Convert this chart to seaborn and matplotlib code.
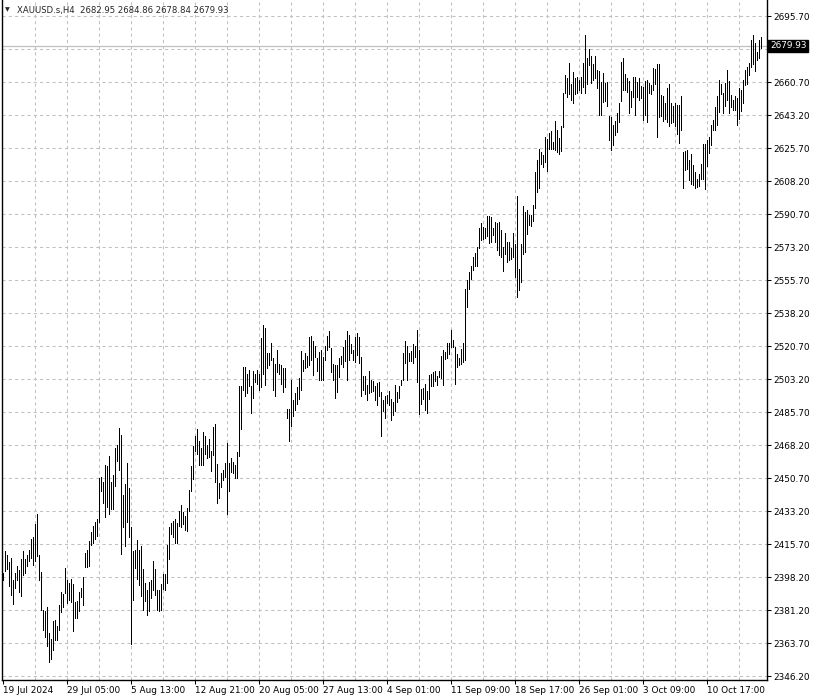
import numpy as np
import pandas as pd
import matplotlib
matplotlib.use("Agg")
import matplotlib.pyplot as plt
import matplotlib.transforms as mtransforms
import seaborn as sns

# ---- data (H4 bars, high / low) ----
highs = [
    2400.8, 2412.6, 2410.1, 2406.4, 2408.7, 2396.8, 2400.5, 2404.3, 2402.6, 2408.4,
    2412.6, 2408.4, 2410.1, 2412.7, 2418.9, 2419.6, 2426.7, 2432.0, 2410.1, 2401.5,
    2381.1, 2380.4, 2383.0, 2369.0, 2365.8, 2375.1, 2376.0, 2372.8, 2383.7, 2390.7,
    2389.5, 2403.5, 2396.8, 2395.6, 2397.7, 2394.7, 2385.6, 2386.0, 2390.7, 2392.8,
    2398.6, 2411.3, 2413.1, 2417.5, 2422.7, 2425.7, 2428.0, 2429.2, 2451.1, 2451.6,
    2449.0, 2458.1, 2457.2, 2462.6, 2449.0, 2452.5, 2466.8, 2468.6, 2477.5, 2474.0,
    2442.3, 2447.7, 2458.9, 2445.8, 2425.2, 2412.2, 2413.0, 2418.3, 2413.0, 2415.2,
    2403.1, 2395.7, 2391.6, 2396.1, 2397.3, 2406.9, 2402.8, 2391.6, 2391.6, 2394.8,
    2400.3, 2400.1, 2415.5, 2424.9, 2427.5, 2428.4, 2429.3, 2427.2, 2433.4, 2436.7,
    2433.2, 2431.1, 2435.0, 2444.9, 2457.2, 2468.2, 2473.2, 2477.0, 2470.9, 2466.8,
    2475.6, 2473.2, 2468.7, 2471.7, 2465.5, 2478.3, 2479.7, 2458.5, 2448.2, 2453.5,
    2455.5, 2458.8, 2469.6, 2458.8, 2461.5, 2459.7, 2458.1, 2464.7, 2500.0, 2500.0,
    2509.8, 2510.1, 2506.2, 2508.0, 2500.0, 2507.5, 2505.9, 2508.0, 2506.4, 2525.0,
    2532.0, 2530.3, 2517.4, 2517.4, 2522.3, 2514.4, 2511.7, 2519.1, 2511.7, 2510.8,
    2509.1, 2509.1, 2487.8, 2487.8, 2502.9, 2492.3, 2496.2, 2499.3, 2503.8, 2518.3,
    2513.5, 2517.4, 2515.6, 2525.9, 2526.2, 2523.6, 2520.9, 2514.4, 2517.9, 2519.1,
    2515.3, 2520.9, 2526.2, 2529.0, 2519.7, 2511.7, 2510.8, 2510.8, 2514.7, 2515.6,
    2520.6, 2524.4, 2529.0, 2526.7, 2521.8, 2518.8, 2525.5, 2527.6, 2525.5, 2515.3,
    2505.0, 2505.0, 2500.2, 2507.6, 2503.2, 2502.3, 2499.7, 2501.5, 2502.0, 2496.7,
    2492.6, 2494.4, 2494.9, 2497.0, 2493.1, 2491.2, 2500.2, 2496.5, 2499.6, 2502.8,
    2517.3, 2523.5, 2521.0, 2517.3, 2518.4, 2521.9, 2521.0, 2529.2, 2519.1, 2498.4,
    2498.8, 2500.7, 2497.2, 2505.5, 2506.4, 2507.2, 2507.6, 2504.9, 2507.6, 2515.5,
    2518.7, 2517.8, 2522.3, 2522.3, 2529.3, 2524.0, 2520.5, 2516.6, 2514.8, 2519.6,
    2522.3, 2551.4, 2555.9, 2560.3, 2563.3, 2567.9, 2570.0, 2573.5, 2583.3, 2585.9,
    2584.2, 2583.3, 2589.8, 2589.8, 2589.5, 2583.3, 2586.8, 2586.3, 2586.8, 2582.4,
    2573.5, 2580.6, 2576.2, 2576.2, 2572.7, 2580.6, 2575.1, 2600.4, 2561.5, 2574.8,
    2595.0, 2591.9, 2592.8, 2590.2, 2590.2, 2595.5, 2613.0, 2619.4, 2625.5, 2623.6,
    2622.0, 2631.4, 2630.8, 2634.0, 2634.7, 2629.1, 2640.2, 2635.6, 2631.2, 2637.4,
    2655.2, 2664.4, 2662.7, 2670.6, 2659.7, 2666.2, 2662.7, 2663.6, 2661.8, 2663.6,
    2671.0, 2685.7, 2673.3, 2678.1, 2674.5, 2670.1, 2674.5, 2667.1, 2666.6, 2660.9,
    2665.3, 2660.0, 2660.7, 2642.7, 2642.3, 2637.9, 2640.2, 2644.5, 2649.4, 2671.5,
    2673.3, 2665.0, 2662.7, 2661.4, 2656.1, 2663.6, 2663.2, 2660.9, 2662.7, 2658.6,
    2657.9, 2661.3, 2662.1, 2660.0, 2659.1, 2668.3, 2667.6, 2670.3, 2670.3, 2653.8,
    2653.3, 2649.4, 2657.4, 2659.7, 2649.8, 2648.0, 2649.8, 2648.5, 2648.5, 2653.3,
    2623.8, 2624.3, 2624.7, 2619.3, 2622.5, 2616.7, 2613.2, 2609.6, 2612.3, 2617.1,
    2628.2, 2628.2, 2630.0, 2631.7, 2637.9, 2640.6, 2647.3, 2653.3, 2661.8, 2659.7,
    2655.1, 2660.0, 2667.1, 2661.3, 2653.8, 2651.5, 2653.3, 2652.1, 2657.4, 2656.8,
    2662.1, 2667.1, 2668.5, 2671.0, 2683.0, 2685.7, 2681.6, 2676.8, 2683.0, 2684.86,
]
lows = [
    2397.0, 2401.7, 2402.9, 2393.8, 2389.1, 2384.2, 2392.6, 2396.8, 2390.7, 2388.6,
    2399.6, 2400.8, 2404.3, 2407.0, 2408.7, 2404.9, 2407.3, 2409.6, 2397.0, 2381.1,
    2370.7, 2366.7, 2362.3, 2353.6, 2355.0, 2360.2, 2365.5, 2365.5, 2370.7, 2380.2,
    2382.6, 2390.2, 2385.1, 2386.5, 2385.4, 2370.2, 2377.0, 2377.0, 2380.7, 2388.1,
    2383.9, 2403.8, 2403.8, 2404.3, 2415.4, 2416.6, 2418.7, 2420.4, 2428.0, 2444.2,
    2437.6, 2430.2, 2435.8, 2432.0, 2434.6, 2434.6, 2446.7, 2460.0, 2455.1, 2410.8,
    2425.3, 2414.8, 2428.0, 2419.6, 2363.4, 2386.3, 2403.3, 2397.5, 2394.5, 2388.6,
    2381.0, 2386.0, 2378.6, 2380.7, 2387.4, 2391.6, 2389.2, 2381.0, 2380.7, 2381.0,
    2392.2, 2391.6, 2395.7, 2408.4, 2421.3, 2419.6, 2416.6, 2416.6, 2425.8, 2424.9,
    2426.7, 2423.5, 2423.1, 2433.4, 2444.0, 2450.5, 2465.5, 2463.8, 2458.0, 2458.1,
    2458.1, 2463.8, 2461.7, 2462.0, 2454.9, 2463.4, 2449.1, 2437.6, 2440.3, 2446.1,
    2450.0, 2451.8, 2432.0, 2444.0, 2454.1, 2453.7, 2450.9, 2450.9, 2462.5, 2477.0,
    2497.9, 2494.4, 2496.0, 2500.0, 2485.5, 2493.5, 2501.8, 2500.9, 2497.6, 2499.3,
    2506.4, 2500.2, 2509.1, 2510.8, 2513.5, 2497.9, 2494.4, 2507.3, 2506.4, 2501.1,
    2496.7, 2499.3, 2483.1, 2470.7, 2478.5, 2483.8, 2487.0, 2490.5, 2493.1, 2497.9,
    2507.6, 2509.1, 2509.9, 2510.8, 2513.5, 2505.5, 2515.3, 2507.8, 2503.2, 2502.9,
    2502.9, 2513.8, 2519.1, 2520.6, 2507.3, 2503.2, 2493.5, 2496.7, 2504.6, 2511.4,
    2509.6, 2513.1, 2503.2, 2513.8, 2517.4, 2513.8, 2512.6, 2516.1, 2512.1, 2494.4,
    2497.6, 2495.8, 2492.3, 2496.2, 2496.7, 2497.0, 2492.6, 2489.6, 2494.4, 2473.2,
    2486.6, 2483.1, 2490.8, 2489.6, 2482.0, 2484.3, 2486.6, 2491.3, 2493.6, 2500.2,
    2502.8, 2512.0, 2503.2, 2512.9, 2513.1, 2512.0, 2515.2, 2501.9, 2485.1, 2490.1,
    2493.1, 2486.9, 2485.5, 2492.7, 2499.6, 2499.6, 2502.5, 2500.2, 2504.6, 2504.2,
    2500.2, 2514.1, 2514.8, 2516.6, 2520.5, 2520.5, 2500.7, 2509.9, 2510.8, 2511.3,
    2512.5, 2513.4, 2541.7, 2551.4, 2556.2, 2561.2, 2563.3, 2563.5, 2572.7, 2577.1,
    2577.4, 2578.0, 2579.2, 2575.3, 2576.2, 2579.7, 2576.2, 2571.8, 2569.1, 2568.2,
    2560.8, 2569.7, 2565.6, 2566.5, 2566.8, 2568.2, 2557.5, 2546.9, 2550.8, 2554.8,
    2569.8, 2570.7, 2580.5, 2585.2, 2584.5, 2587.2, 2594.2, 2602.6, 2604.9, 2617.6,
    2615.8, 2618.5, 2613.7, 2625.2, 2625.2, 2625.2, 2624.7, 2623.8, 2622.9, 2624.3,
    2637.0, 2655.1, 2652.9, 2654.4, 2651.5, 2649.8, 2654.4, 2655.1, 2656.5, 2654.7,
    2657.9, 2654.7, 2659.7, 2669.7, 2660.0, 2661.8, 2662.7, 2657.4, 2643.2, 2643.2,
    2650.3, 2650.8, 2648.0, 2630.0, 2624.7, 2627.3, 2632.6, 2634.4, 2639.7, 2650.6,
    2656.5, 2656.5, 2655.6, 2644.5, 2647.3, 2652.9, 2643.2, 2652.9, 2651.2, 2652.1,
    2640.9, 2643.2, 2639.7, 2654.7, 2654.2, 2656.8, 2659.7, 2631.7, 2642.0, 2642.7,
    2640.2, 2641.4, 2639.7, 2637.4, 2639.2, 2639.7, 2637.4, 2633.5, 2628.5, 2635.3,
    2604.9, 2614.0, 2614.9, 2609.1, 2606.6, 2606.1, 2604.9, 2605.2, 2605.6, 2609.6,
    2609.6, 2604.3, 2616.2, 2623.2, 2627.3, 2635.3, 2635.3, 2637.9, 2645.0, 2654.4,
    2644.1, 2648.0, 2651.5, 2644.1, 2647.3, 2646.2, 2645.9, 2637.9, 2641.4, 2645.5,
    2649.8, 2659.1, 2659.7, 2664.4, 2668.5, 2670.3, 2666.7, 2672.4, 2673.3, 2678.84,
]

x_tick_labels = ["19 Jul 2024", "29 Jul 05:00", "5 Aug 13:00", "12 Aug 21:00",
                 "20 Aug 05:00", "27 Aug 13:00", "4 Sep 01:00", "11 Sep 09:00",
                 "18 Sep 17:00", "26 Sep 01:00", "3 Oct 09:00", "10 Oct 17:00"]
y_tick_labels = ["2346.20", "2363.70", "2381.20", "2398.20", "2415.70", "2433.20",
                 "2450.70", "2468.20", "2485.70", "2503.20", "2520.70", "2538.20",
                 "2555.70", "2573.20", "2590.70", "2608.20", "2625.70", "2643.20",
                 "2660.70", "2678.20", "2695.70"]
symbol_line = "XAUUSD.s,H4  2682.95 2684.86 2678.84 2679.93"
last_close = 2679.93

sns.set_theme(style="white")
plt.rcParams['font.family'] = ['DejaVu Sans']
FS = 6.4

df = pd.DataFrame({"bar": np.arange(len(highs)), "high": highs, "low": lows})

fig = plt.figure(figsize=(8.13, 7.0), dpi=100)
fig.patch.set_facecolor("white")
ax = fig.add_axes([2 / 813, 20 / 700, 765 / 813, 680 / 700])
ax.set_facecolor("white")

ax.set_xlim(-0.5, 382)
ax.set_ylim(2344.1, 2704.2)

# grid
grid_kw = dict(color="#c0c0c0", linewidth=0.75, linestyle=(0, (3, 3)), zorder=0)
for gx in range(16, 380, 16):
    ax.axvline(gx, **grid_kw)
ytick_pos = np.linspace(2346.2, 2695.7, len(y_tick_labels))
for gy in ytick_pos:
    ax.axhline(gy, **grid_kw)

# bid line
ax.axhline(last_close, color="#c0c0c0", linewidth=0.9, zorder=1)

# bars
ax.vlines(df["bar"], df["low"], df["high"], color="black", linewidth=0.55,
          antialiased=False, zorder=2)

# axes styling
for side in ["left", "right", "bottom"]:
    ax.spines[side].set_visible(True)
    ax.spines[side].set_color("black")
    ax.spines[side].set_linewidth(1.0)
ax.spines["top"].set_visible(False)

ax.yaxis.tick_right()
ax.set_yticks(ytick_pos)
ax.set_yticklabels(y_tick_labels)
ax.set_xticks(np.arange(0, 32 * len(x_tick_labels), 32))
ax.set_xticklabels(x_tick_labels, ha="left")
ax.tick_params(axis="y", which="both", left=False, right=True, direction="out",
               length=3, width=0.75, pad=1.5, labelsize=FS, colors="black")
ax.tick_params(axis="x", which="both", bottom=True, top=False, direction="out",
               length=3, width=0.75, pad=1.5, labelsize=FS, colors="black")
ax.grid(False)

# current price label (drawn over the 2678.20 tick label, as in the terminal)
trans = mtransforms.blended_transform_factory(ax.transAxes, ax.transData)
ax.text(1.004, last_close, "2679.93", transform=trans, ha="left", va="center",
        color="white", fontsize=FS, zorder=10, clip_on=False,
        bbox=dict(boxstyle="square,pad=0.18", fc="black", ec="black"))

# header
fig.text(5 / 813, 1 - 10 / 700, "\u25bc", fontsize=4.5, va="center", ha="left")
fig.text(17 / 813, 1 - 10 / 700, symbol_line, fontsize=6.1, va="center", ha="left")

fig.savefig("out.png", dpi=100, facecolor="white")
